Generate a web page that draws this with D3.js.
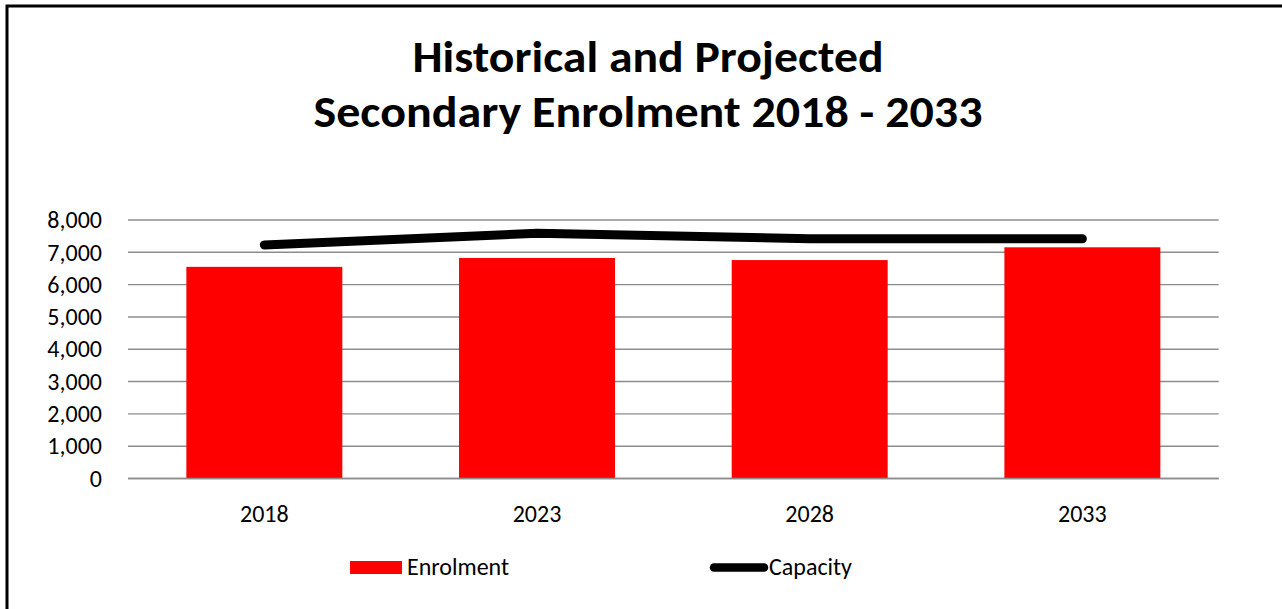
<!DOCTYPE html>
<html>
<head>
<meta charset="utf-8">
<script src="https://cdn.jsdelivr.net/npm/d3@7"></script>
<style>
  html, body { margin: 0; padding: 0; background: #fff; overflow: hidden; }
  svg { display: block; }
  text { font-family: Carlito, Calibri, "Open Sans", sans-serif; fill: #000; }
</style>
</head>
<body>
<svg id="chart" width="1282" height="609"></svg>
<script>
const titleLines = ["Historical and Projected", "Secondary Enrolment 2018 - 2033"];
const categories = ["2018", "2023", "2028", "2033"];
const enrolment = [6550, 6825, 6760, 7155];
const capacity = [7230, 7590, 7420, 7420];
const yTicks = [0, 1000, 2000, 3000, 4000, 5000, 6000, 7000, 8000];
const seriesNames = ["Enrolment", "Capacity"];

const svg = d3.select("#chart");
const FONT = 'Carlito, Calibri, "Open Sans", sans-serif';

// chart frame
svg.append("rect")
  .attr("x", 7).attr("y", 6)
  .attr("width", 1300).attr("height", 620)
  .attr("fill", "#fff").attr("stroke", "#000").attr("stroke-width", 3);

// title
const title = svg.append("g");
const titleWidths = [471, 669];
titleLines.forEach((t, i) => {
  title.append("text")
    .attr("x", 648).attr("y", 72 + i * 55)
    .attr("text-anchor", "middle")
    .attr("font-size", 45).attr("font-weight", "bold")
    .attr("textLength", titleWidths[i])
    .attr("lengthAdjust", "spacingAndGlyphs")
    .text(t);
});

const plot = { left: 128, right: 1218.7, top: 220, bottom: 478.5 };

const x = d3.scaleBand()
  .domain(categories)
  .range([plot.left, plot.right])
  .paddingInner(0.428)
  .paddingOuter(0.214);

const y = d3.scaleLinear()
  .domain([0, 8000])
  .range([plot.bottom, plot.top]);

// gridlines
svg.append("g")
  .selectAll("line")
  .data(yTicks)
  .join("line")
  .attr("x1", plot.left).attr("x2", plot.right)
  .attr("y1", d => y(d)).attr("y2", d => y(d))
  .attr("stroke", "#8c8c8c").attr("stroke-width", 1.4);

// y axis labels
const yAxis = d3.axisLeft(y).tickValues(yTicks).tickSize(0).tickPadding(0)
  .tickFormat(d3.format(","));
const yg = svg.append("g").attr("transform", `translate(${plot.left - 26},0)`).call(yAxis);
yg.select(".domain").remove();
yg.selectAll("text").attr("font-size", 24).attr("fill", "#000")
  .style("font-family", FONT);

// bars
svg.append("g")
  .selectAll("rect")
  .data(enrolment)
  .join("rect")
  .attr("x", (d, i) => x(categories[i]))
  .attr("width", x.bandwidth())
  .attr("y", d => y(d))
  .attr("height", d => y(0) - y(d))
  .attr("fill", "#FF0000");

// baseline over bars
svg.append("line")
  .attr("x1", plot.left).attr("x2", plot.right)
  .attr("y1", y(0)).attr("y2", y(0))
  .attr("stroke", "#8c8c8c").attr("stroke-width", 1.4);

// x axis labels
const xAxis = d3.axisBottom(x).tickSize(0).tickPadding(0);
const xg = svg.append("g").attr("transform", `translate(0,${plot.bottom + 26})`).call(xAxis);
xg.select(".domain").remove();
xg.selectAll("text").attr("font-size", 24).attr("fill", "#000")
  .style("font-family", FONT);

// capacity line
const line = d3.line()
  .x((d, i) => x(categories[i]) + x.bandwidth() / 2)
  .y(d => y(d));
svg.append("path")
  .datum(capacity)
  .attr("d", line)
  .attr("fill", "none")
  .attr("stroke", "#000")
  .attr("stroke-width", 9)
  .attr("stroke-linecap", "round")
  .attr("stroke-linejoin", "round");

// legend
const legend = svg.append("g");
legend.append("rect")
  .attr("x", 350).attr("y", 561).attr("width", 52).attr("height", 13)
  .attr("fill", "#FF0000");
legend.append("text")
  .attr("x", 407).attr("y", 575)
  .attr("font-size", 24)
  .text(seriesNames[0]);
legend.append("line")
  .attr("x1", 714).attr("x2", 764).attr("y1", 567.5).attr("y2", 567.5)
  .attr("stroke", "#000").attr("stroke-width", 8.5).attr("stroke-linecap", "round");
legend.append("text")
  .attr("x", 769).attr("y", 575)
  .attr("font-size", 24)
  .text(seriesNames[1]);
</script>
</body>
</html>
